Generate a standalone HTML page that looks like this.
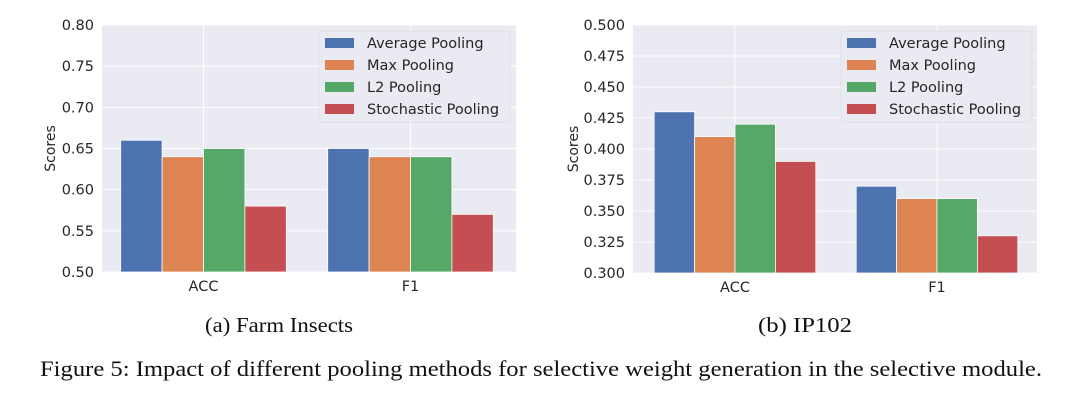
<!DOCTYPE html>
<html><head><meta charset="utf-8"><style>
body{margin:0;background:#fff;width:1080px;height:404px;overflow:hidden}
svg text{font-family:"DejaVu Sans","Liberation Sans",sans-serif;fill:#262626}
.cap{font-family:"Liberation Serif",serif;fill:#111}
</style></head><body>
<svg id="fig" width="1080" height="404"></svg>
<script>
const categories=["ACC","F1"];
const seriesNames=["Average Pooling","Max Pooling","L2 Pooling","Stochastic Pooling"];
const colors=["#4c72b0","#dd8452","#55a868","#c44e52"];
const farmValues=[[0.66,0.65],[0.64,0.64],[0.65,0.64],[0.58,0.57]];
const farmTicks=["0.50","0.55","0.60","0.65","0.70","0.75","0.80"];
const ipValues=[[0.43,0.37],[0.41,0.36],[0.42,0.36],[0.39,0.33]];
const ipTicks=["0.300","0.325","0.350","0.375","0.400","0.425","0.450","0.475","0.500"];
const NS="http://www.w3.org/2000/svg";
const svg=document.getElementById('fig');
function mk(t,a,p){const e=document.createElementNS(NS,t);for(const k in a)e.setAttribute(k,a[k]);(p||svg).appendChild(e);return e;}
function chart(cfg){
  const g=mk('g',{});
  
  
  const {x0,x1,y0,y1}=cfg;
  const bg=mk('rect',{x:x0,y:y0,width:x1-x0,height:y1-y0,fill:'#eaeaf2'},g);
  
  
  const lo=+cfg.ticks[0],hi=+cfg.ticks[cfg.ticks.length-1];
  const ys=v=>y1-(v-lo)/(hi-lo)*(y1-y0);
  const step=(x1-x0)/categories.length;
  const xs=i=>x0+step*(i+0.5)+ (cfg.xoff||0);
  cfg.ticks.forEach(t=>{
    const y=ys(+t);
    const l=mk('line',{x1:x0,x2:x1,y1:y,y2:y,stroke:'#fff','stroke-width':1},g);
    
    
    const tx=mk('text',{x:x0-8,y:y+5,'text-anchor':'end','font-size':14.5},g);
    tx.textContent=t;
    
    
  });
  categories.forEach((c,i)=>{
    const l=mk('line',{x1:xs(i),x2:xs(i),y1:y0,y2:y1,stroke:'#fff','stroke-width':1},g);
    
    
  });
  const bw=step*0.2;
  cfg.values.forEach((ser,s)=>{
    ser.forEach((v,i)=>{
      const bx=xs(i)-2*bw+s*bw;
      const r=mk('rect',{x:bx,y:ys(v),width:bw,height:y1-ys(v),fill:colors[s],stroke:'#fff','stroke-width':0.8},g);
      
      
    });
  });
  categories.forEach((c,i)=>{
    const tx=mk('text',{x:xs(i),y:y1+19,'text-anchor':'middle','font-size':14.5},g);
    tx.textContent=c;
    
    
  });
  const yl=mk('text',{x:0,y:0,'text-anchor':'middle','font-size':14,transform:`translate(${cfg.ylx},${(y0+y1)/2}) rotate(-90)`},g);
  yl.textContent='Scores';
  
  
  const lg=mk('g',{},g);
  
  
  mk('rect',{x:cfg.lx,y:y0+6,width:191,height:91,fill:'#eaeaf2',stroke:'#e0e0e8',rx:3},lg);
  seriesNames.forEach((n,s)=>{
    const cy=y0+18+s*22;
    const p=mk('rect',{x:cfg.lx+6,y:cy-5,width:29,height:10,fill:colors[s]},lg);
    
    
    const t=mk('text',{x:cfg.lx+48,y:cy+5,'font-size':14.5},lg);
    t.textContent=n;
    
    
  });
  const cp=mk('text',{x:cfg.cx,y:332,'text-anchor':'middle','font-size':21,class:'cap',textLength:cfg.capw,lengthAdjust:'spacingAndGlyphs'},g);
  cp.textContent=cfg.caption;
  
  
}
chart({name:'farm-insects-chart',x0:102,x1:516,y0:25,y1:272,ticks:farmTicks,values:farmValues,ylx:55,lx:319,cx:279,caption:'(a) Farm Insects',capw:148,xoff:-2});
chart({name:'ip102-chart',x0:633,x1:1037,y0:25,y1:273,ticks:ipTicks,values:ipValues,ylx:578,lx:841,cx:805,caption:'(b) IP102',capw:94,xoff:1});
const fc=mk('text',{x:40,y:376,'font-size':22,class:'cap',textLength:1002,lengthAdjust:'spacingAndGlyphs'});
fc.textContent='Figure 5: Impact of different pooling methods for selective weight generation in the selective module.';


</script>
</body></html>
